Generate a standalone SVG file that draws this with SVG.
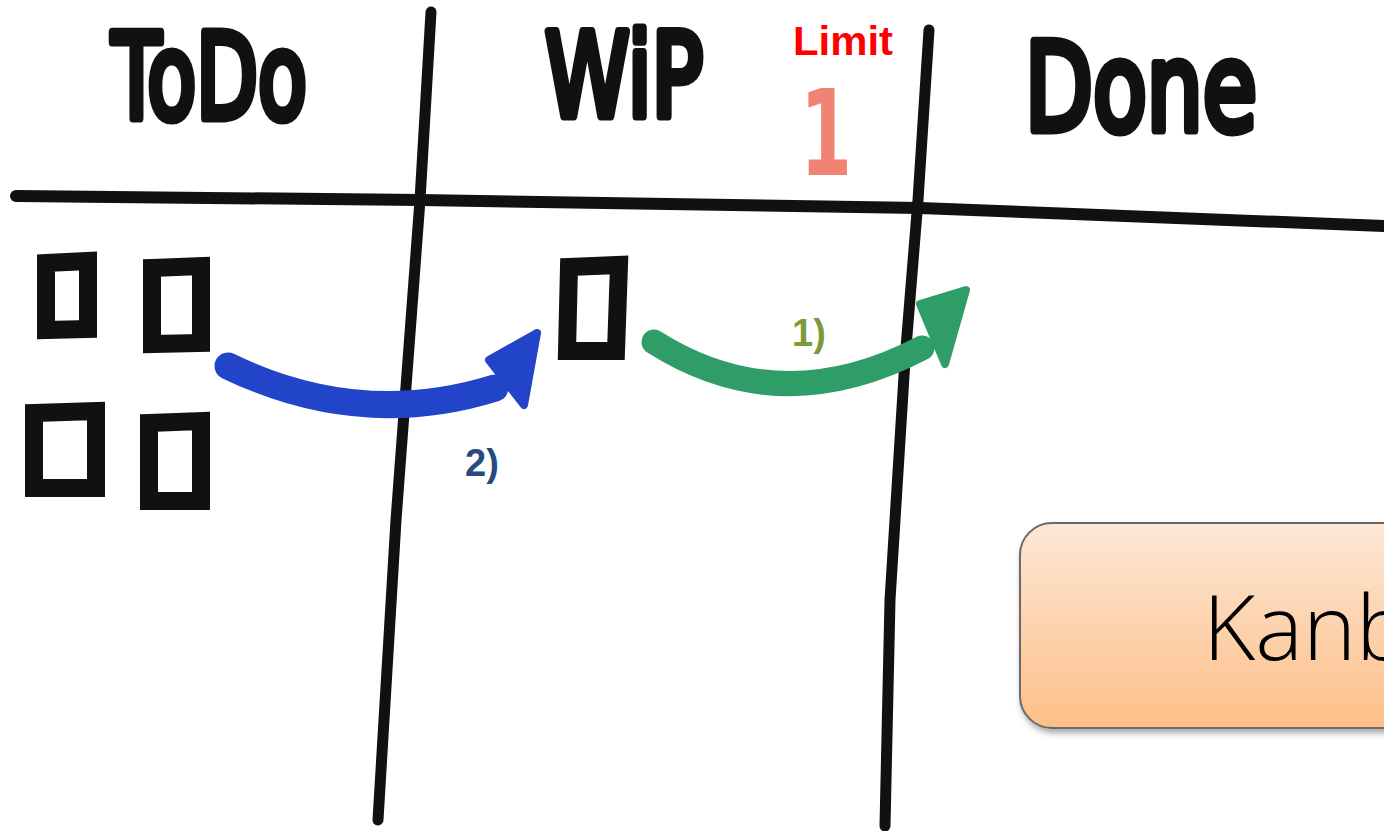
<svg xmlns="http://www.w3.org/2000/svg" width="1384" height="831" viewBox="0 0 1384 831">
<style>
.ink{fill:none;stroke:#111;stroke-linecap:round;stroke-linejoin:round}
.hand{font-family:"DejaVu Sans",sans-serif;font-weight:normal;fill:#111;stroke:#111;stroke-width:9;stroke-linejoin:round;stroke-linecap:round}
.card{fill:none;stroke:#111;stroke-width:18;stroke-linejoin:miter}
.num{font-family:"Liberation Sans",sans-serif;font-weight:bold;font-size:38px}
</style>
<defs>
<linearGradient id="kg" x1="0" y1="0" x2="0" y2="1">
<stop offset="0" stop-color="#fde7d6"/>
<stop offset="1" stop-color="#fdbf88"/>
</linearGradient>
<filter id="sh" x="-10%" y="-10%" width="130%" height="130%">
<feDropShadow dx="2" dy="4" stdDeviation="3" flood-color="#000" flood-opacity="0.35"/>
</filter>
</defs>
<rect width="1384" height="831" fill="#fff"/>
<g id="grid">
<path class="ink" stroke-width="12" d="M16,196 L420,200 L920,208 L1384,226"/>
<path class="ink" stroke-width="11" d="M431,12 L420,200 L396,520 L378,820"/>
<path class="ink" stroke-width="11" d="M929,30 L918,200 L905,360 L890,600 L885,826"/>
</g>
<g id="headers">
<text class="hand" x="112" y="118" font-size="118" textLength="195" lengthAdjust="spacingAndGlyphs">ToDo</text>
<text class="hand" x="545" y="116" font-size="116" textLength="158" lengthAdjust="spacingAndGlyphs">WiP</text>
<text class="hand" x="1025" y="130" font-size="122" textLength="232" lengthAdjust="spacingAndGlyphs">Done</text>
</g>
<g id="limit">
<text x="793" y="55" font-family="Liberation Sans, sans-serif" font-weight="bold" font-size="40" fill="#ff0000" textLength="100" lengthAdjust="spacingAndGlyphs">Limit</text>
<text x="800" y="175" font-family="DejaVu Sans, sans-serif" font-weight="bold" font-size="120" fill="#f08374" textLength="52" lengthAdjust="spacingAndGlyphs">1</text>
</g>
<g id="todo-cards">
<path class="card" d="M46,263 L88,261 L88,329 L46,330 Z"/>
<path class="card" d="M152,268 L201,266 L201,343 L152,344 Z"/>
<path class="card" d="M34,413 L96,411 L96,488 L34,488 Z"/>
<path class="card" d="M149,423 L201,421 L201,501 L149,501 Z"/>
</g>
<g id="wip-card">
<path class="card" d="M569,267 L619,265 L616,351 L567,351 Z"/>
</g>
<g id="connectors">
<path d="M228,366 Q360,430 495,388" fill="none" stroke="#2244c8" stroke-width="27" stroke-linecap="round"/>
<polygon points="537,333 489,360 524,405" fill="#2244c8" stroke="#2244c8" stroke-width="8" stroke-linejoin="round"/>
<path d="M654,342 Q780,422 922,348" fill="none" stroke="#2f9d68" stroke-width="25" stroke-linecap="round"/>
<polygon points="966,290 920,304 945,364" fill="#2f9d68" stroke="#2f9d68" stroke-width="8" stroke-linejoin="round"/>
</g>
<g id="labels">
<text class="num" x="465" y="476" fill="#264b80">2)</text>
<text class="num" x="792" y="346" fill="#7b9a3c">1)</text>
</g>
<g id="kanban">
<rect x="1020" y="523" width="400" height="205" rx="32" fill="url(#kg)" stroke="#6b6b6b" stroke-width="2" filter="url(#sh)"/>
<text x="1203" y="660" font-family="Open Sans, sans-serif" font-weight="300" font-size="90" fill="#000">Kanban</text>
</g>
</svg>
